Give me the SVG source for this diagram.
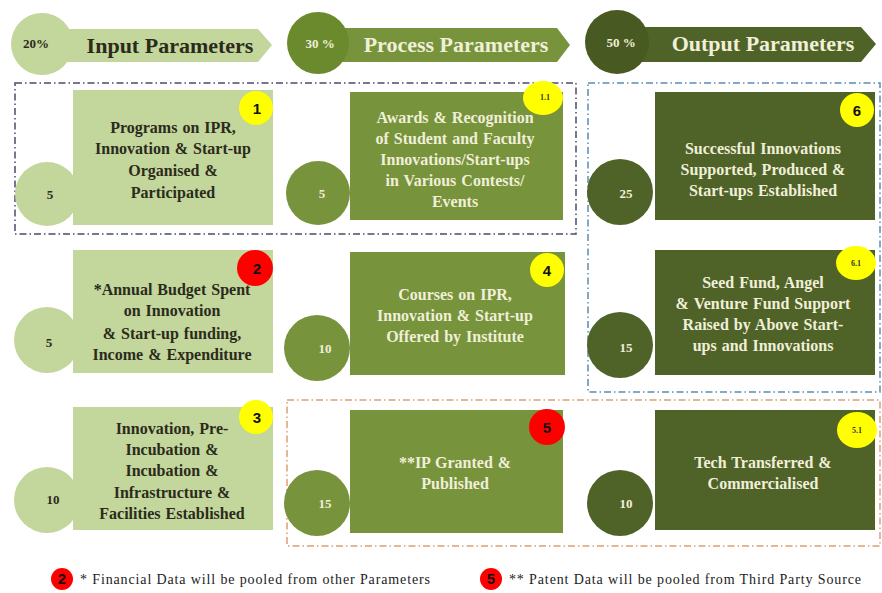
<svg xmlns="http://www.w3.org/2000/svg" width="882" height="593" viewBox="0 0 882 593">
<style>
.in{fill:#c3d69b}
.pr{fill:#77933c}
.ou{fill:#4f6228}
.t{font-family:"Liberation Serif","DejaVu Serif",serif;font-weight:bold;font-size:16px;text-anchor:middle;word-spacing:1px}
.dk{fill:#2b2b1c}
.lt{fill:#f0efd8}
.num{font-family:"Liberation Serif",serif;font-weight:bold;font-size:13px;text-anchor:middle}
.hd{font-family:"Liberation Serif",serif;font-weight:bold;font-size:22px;text-anchor:middle}
.yb{fill:#ffff00}
.rb{fill:#ff0000}
.bt{font-family:"Liberation Sans",sans-serif;font-weight:bold;font-size:15px;text-anchor:middle;fill:#111}
.bs{font-family:"Liberation Serif",serif;font-weight:bold;font-size:8px;text-anchor:middle;fill:#333}
.lg{font-family:"Liberation Serif",serif;font-size:14px;fill:#222}
.box{fill:none;stroke-width:1.5;stroke-dasharray:7 3 1.5 3}
</style>

<g id="headers">
  <g id="hdr-input">
    <path class="in" d="M60,29 H258 L272,45 L258,62 H60 Z"/>
    <circle class="in" cx="42" cy="44" r="31"/>
    <text class="num dk" x="36" y="48" font-size="11">20%</text>
    <text class="hd dk" x="170" y="53">Input Parameters</text>
  </g>
  <g id="hdr-process">
    <path class="pr" d="M340,28 H557 L570,45 L557,62 H340 Z"/>
    <circle fill="#6b8a2e" cx="318" cy="43" r="31"/>
    <text class="num lt" x="320" y="48" font-size="11">30 %</text>
    <text class="hd lt" x="456" y="52">Process Parameters</text>
  </g>
  <g id="hdr-output">
    <path class="ou" d="M640,27 H861 L876,44 L861,62 H640 Z"/>
    <circle fill="#485a22" cx="617" cy="42" r="32"/>
    <text class="num lt" x="621" y="47" font-size="11">50 %</text>
    <text class="hd lt" x="763" y="51">Output Parameters</text>
  </g>
</g>

<g id="groups">
  <rect class="box" x="15" y="83" width="561" height="151" stroke="#4b4b6b"/>
  <rect class="box" x="588" y="83" width="292" height="309" stroke="#5a8fb5"/>
  <rect class="box" x="287" y="400" width="593" height="146" stroke="#e0a070"/>
</g>

<g id="n1">
  <rect class="in" x="73" y="90" width="200" height="135"/>
  <circle class="in" cx="47" cy="194" r="32"/>
  <text class="num dk" x="50" y="199">5</text>
  <text class="t dk" x="173" y="133">Programs on IPR,</text>
  <text class="t dk" x="173" y="154">Innovation  &amp; Start-up</text>
  <text class="t dk" x="173" y="176">Organised &amp;</text>
  <text class="t dk" x="173" y="198">Participated</text>
  <circle class="yb" cx="256" cy="108" r="17"/>
  <text class="bt" x="257" y="114">1</text>
</g>

<g id="n1_1">
  <rect class="pr" x="350" y="92" width="213" height="128"/>
  <circle class="pr" cx="318" cy="193" r="32"/>
  <text class="num lt" x="322" y="198">5</text>
  <text class="t lt" x="455" y="123">Awards &amp; Recognition</text>
  <text class="t lt" x="455" y="144">of Student  and Faculty</text>
  <text class="t lt" x="455" y="165">Innovations/Start-ups</text>
  <text class="t lt" x="455" y="186">in Various Contests/</text>
  <text class="t lt" x="455" y="207">Events</text>
  <ellipse class="yb" cx="543" cy="98" rx="20" ry="17"/>
  <text class="bs" x="545" y="100">1.1</text>
</g>

<g id="n6">
  <rect class="ou" x="655" y="92" width="220" height="128"/>
  <circle class="ou" cx="620" cy="192" r="33"/>
  <text class="num lt" x="626" y="198">25</text>
  <text class="t lt" x="763" y="154" word-spacing="4">Successful Innovations</text>
  <text class="t lt" x="763" y="175" word-spacing="4">Supported, Produced &amp;</text>
  <text class="t lt" x="763" y="196" word-spacing="4">Start-ups Established</text>
  <circle class="yb" cx="857" cy="110" r="17"/>
  <text class="bt" x="857" y="116">6</text>
</g>

<g id="n2">
  <rect class="in" x="73" y="250" width="200" height="123"/>
  <circle class="in" cx="47" cy="340" r="33"/>
  <text class="num dk" x="49" y="347">5</text>
  <text class="t dk" x="172" y="295">*Annual  Budget  Spent</text>
  <text class="t dk" x="172" y="316">on Innovation</text>
  <text class="t dk" x="172" y="339">&amp; Start-up  funding,</text>
  <text class="t dk" x="172" y="360">Income  &amp; Expenditure</text>
  <circle class="rb" cx="255" cy="268" r="18"/>
  <text class="bt" x="257" y="274">2</text>
</g>

<g id="n4">
  <rect class="pr" x="350" y="252" width="215" height="123"/>
  <circle class="pr" cx="317" cy="348" r="33"/>
  <text class="num lt" x="325" y="353">10</text>
  <text class="t lt" x="455" y="300">Courses  on IPR,</text>
  <text class="t lt" x="455" y="321">Innovation  &amp; Start-up</text>
  <text class="t lt" x="455" y="342">Offered by Institute</text>
  <circle class="yb" cx="547" cy="270" r="17"/>
  <text class="bt" x="547" y="276">4</text>
</g>

<g id="n6_1">
  <rect class="ou" x="655" y="250" width="220" height="125"/>
  <circle class="ou" cx="620" cy="345" r="33"/>
  <text class="num lt" x="626" y="352">15</text>
  <text class="t lt" x="763" y="288">Seed Fund,  Angel</text>
  <text class="t lt" x="763" y="309">&amp; Venture  Fund  Support</text>
  <text class="t lt" x="763" y="330">Raised by Above Start-</text>
  <text class="t lt" x="763" y="351">ups  and Innovations</text>
  <ellipse class="yb" cx="856" cy="263" rx="20" ry="17"/>
  <text class="bs" x="856" y="266">6.1</text>
</g>

<g id="n3">
  <rect class="in" x="73" y="407" width="200" height="123"/>
  <circle class="in" cx="47" cy="500" r="33"/>
  <text class="num dk" x="53" y="504">10</text>
  <text class="t dk" x="172" y="434">Innovation,  Pre-</text>
  <text class="t dk" x="172" y="455">Incubation  &amp;</text>
  <text class="t dk" x="172" y="476">Incubation  &amp;</text>
  <text class="t dk" x="172" y="498">Infrastructure  &amp;</text>
  <text class="t dk" x="172" y="519">Facilities Established</text>
  <circle class="yb" cx="256" cy="417" r="17"/>
  <text class="bt" x="257" y="423">3</text>
</g>

<g id="n5">
  <rect class="pr" x="350" y="410" width="213" height="123"/>
  <circle class="pr" cx="317" cy="503" r="33"/>
  <text class="num lt" x="325" y="508">15</text>
  <text class="t lt" x="455" y="468">**IP  Granted &amp;</text>
  <text class="t lt" x="455" y="489">Published</text>
  <circle class="rb" cx="547" cy="427" r="18"/>
  <text class="bt" x="547" y="433">5</text>
</g>

<g id="n5_1">
  <rect class="ou" x="655" y="410" width="220" height="120"/>
  <circle class="ou" cx="620" cy="503" r="33"/>
  <text class="num lt" x="626" y="508">10</text>
  <text class="t lt" x="763" y="468">Tech Transferred  &amp;</text>
  <text class="t lt" x="763" y="489">Commercialised</text>
  <ellipse class="yb" cx="857" cy="430" rx="20" ry="18"/>
  <text class="bs" x="857" y="433">5.1</text>
</g>

<g id="legend">
  <circle class="rb" cx="62" cy="579" r="11"/>
  <text class="bt" x="62" y="584" font-size="13">2</text>
  <text class="lg" x="80" y="584" textLength="350" lengthAdjust="spacing">* Financial Data will be pooled  from other Parameters</text>
  <circle class="rb" cx="491" cy="579" r="11"/>
  <text class="bt" x="491" y="584" font-size="13">5</text>
  <text class="lg" x="509" y="584" textLength="352" lengthAdjust="spacing">** Patent Data will be pooled from Third Party Source</text>
</g>
</svg>
